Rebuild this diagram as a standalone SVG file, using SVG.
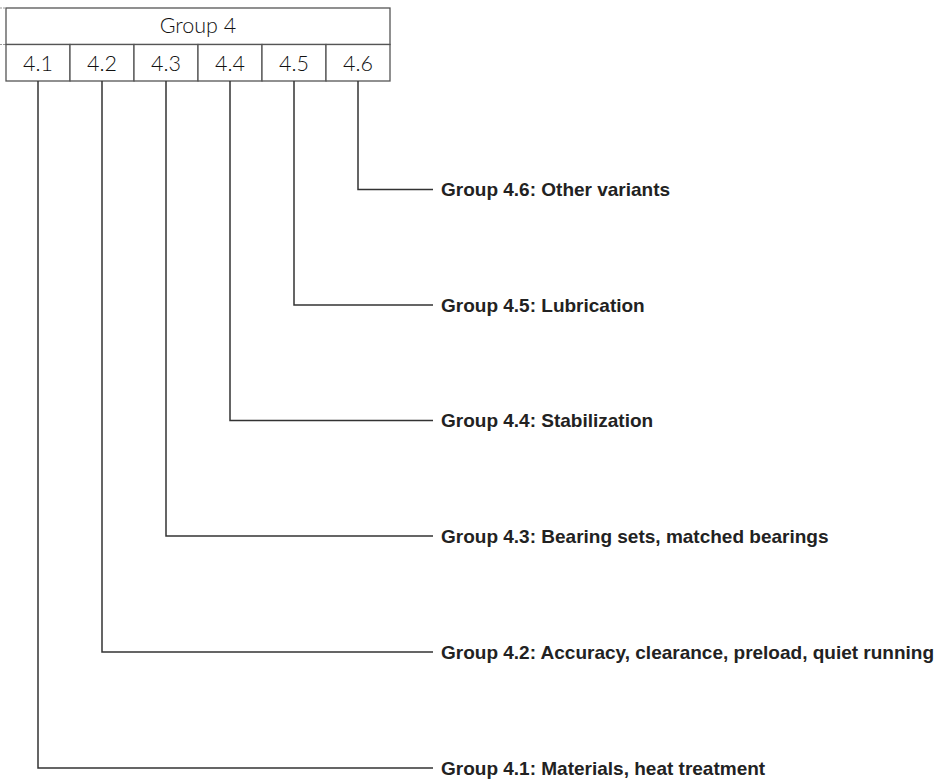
<svg xmlns="http://www.w3.org/2000/svg" width="939" height="782" viewBox="0 0 939 782">
<style>
.box{fill:#fff;stroke:#555;stroke-width:1.3}
.hd{font-family:Lato,"Liberation Sans",Arial,sans-serif;font-size:21.5px;font-weight:300;fill:#111;text-anchor:middle}
.con{fill:none;stroke:#333;stroke-width:1.5}
.lbl{font-family:"Liberation Sans",Arial,sans-serif;font-size:19px;font-weight:bold;fill:#222}
.tick{stroke:#999;stroke-width:1;stroke-dasharray:2 1}
</style>
<rect width="939" height="782" fill="#fff"/>
<g id="group4">
<line class="tick" x1="0" y1="8" x2="6" y2="8"/>
<line class="tick" x1="0" y1="44.5" x2="6" y2="44.5"/>
<rect class="box" x="6" y="8" width="384" height="36.5"/>
<text class="hd" x="198" y="33">Group 4</text>
</g>
<g id="c41"><rect class="box" x="6" y="44.5" width="64" height="36.5"/><text class="hd" x="38" y="71">4.1</text></g>
<g id="c42"><rect class="box" x="70" y="44.5" width="64" height="36.5"/><text class="hd" x="102" y="71">4.2</text></g>
<g id="c43"><rect class="box" x="134" y="44.5" width="64" height="36.5"/><text class="hd" x="166" y="71">4.3</text></g>
<g id="c44"><rect class="box" x="198" y="44.5" width="64" height="36.5"/><text class="hd" x="230" y="71">4.4</text></g>
<g id="c45"><rect class="box" x="262" y="44.5" width="64" height="36.5"/><text class="hd" x="294" y="71">4.5</text></g>
<g id="c46"><rect class="box" x="326" y="44.5" width="64" height="36.5"/><text class="hd" x="358" y="71">4.6</text></g>
<g id="connectors">
<polyline class="con" points="358,81 358,189.5 433,189.5"/>
<polyline class="con" points="294,81 294,305 433,305"/>
<polyline class="con" points="230,81 230,420.5 433,420.5"/>
<polyline class="con" points="166,81 166,536 433,536"/>
<polyline class="con" points="102,81 102,652 433,652"/>
<polyline class="con" points="38,81 38,768 433,768"/>
</g>
<g id="l46"><text class="lbl" x="441" y="196">Group 4.6: Other variants</text></g>
<g id="l45"><text class="lbl" x="441" y="311.5">Group 4.5: Lubrication</text></g>
<g id="l44"><text class="lbl" x="441" y="427">Group 4.4: Stabilization</text></g>
<g id="l43"><text class="lbl" x="441" y="542.5">Group 4.3: Bearing sets, matched bearings</text></g>
<g id="l42"><text class="lbl" x="441" y="658.5">Group 4.2: Accuracy, clearance, preload, quiet running</text></g>
<g id="l41"><text class="lbl" x="441" y="774.5">Group 4.1: Materials, heat treatment</text></g>
</svg>
